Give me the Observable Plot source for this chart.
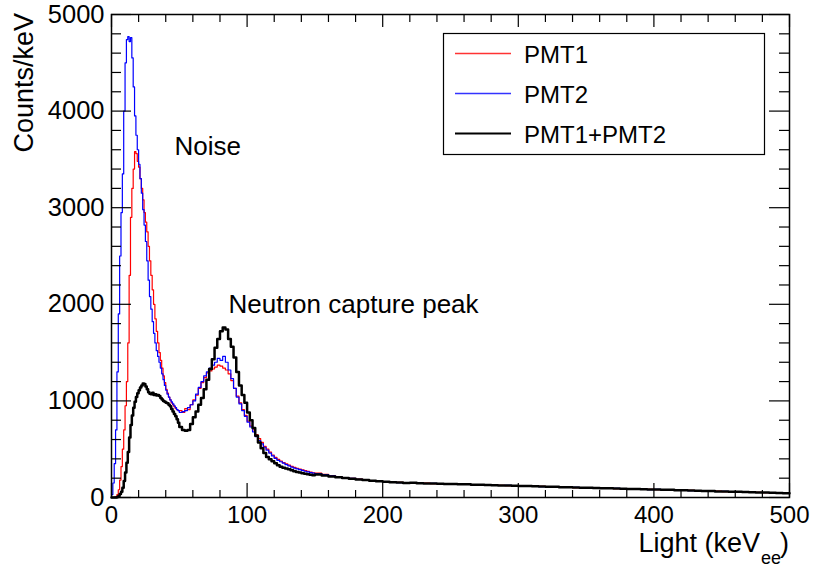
<!DOCTYPE html>
<html><head><meta charset="utf-8">
<script src="https://cdn.jsdelivr.net/npm/d3@7"></script>
<script src="https://cdn.jsdelivr.net/npm/@observablehq/plot@0.6"></script>
<style>body{margin:0;background:#fff;} svg{display:block}</style>
</head><body><div id="chart"></div>
<script>
// Light spectra (Counts/keV), histogram bins:
// fine: 1 keV bins from 0 to 50; mid: 2 keV bins from 50 to 150; tail: 5 keV bins from 150 to 500
const pmt1Fine = [0,0,5,10,30,80,180,320,500,700,950,1200,1600,2300,2900,3200,3400,3580,3560,3480,
  3420,3300,3200,3080,2950,2850,2750,2600,2450,2300,2150,2000,1850,1720,1600,1500,1420,1340,1260,1190,
  1120,1080,1040,1010,980,960,940,920,910,900];
const pmt2Fine = [30,150,350,700,1300,1900,2500,2950,3350,4000,4500,4740,4770,4720,4760,4550,4250,3950,3750,3600,
  3450,3300,3150,2980,2820,2650,2450,2250,2080,1950,1820,1700,1600,1520,1460,1400,1340,1280,1220,1160,
  1110,1070,1040,1010,990,970,950,930,910,900];
const sumFine = [0,0,0,0,5,15,35,60,100,170,260,360,470,620,750,850,930,990,1040,1080,
  1110,1140,1160,1180,1175,1150,1120,1090,1075,1070,1085,1060,1070,1055,1060,1050,1030,1015,1000,990,
  980,975,960,945,915,890,865,840,810,775];

const pmt1Mid = [900,880,920,910,960,1010,1060,1130,1190,1240,1290,1310,1330,1350,1370,1360,1340,1320,1280,1210,
  1130,1050,980,910,850,790,740,700,650,610,570,530,500,470,440,415,395,378,362,348,
  335,322,312,302,294,286,278,270,262,256];
const pmt2Mid = [880,890,900,930,960,1000,1070,1140,1200,1260,1300,1340,1370,1400,1440,1420,1460,1400,1320,1230,
  1130,1040,970,900,840,780,730,680,630,590,555,520,490,460,430,405,385,370,355,340,
  328,315,305,296,288,280,272,265,258,252];
const sumMid = [730,700,690,700,760,830,890,960,1030,1120,1220,1330,1430,1550,1640,1720,1760,1740,1640,1560,
  1450,1300,1160,1060,980,880,800,720,640,570,510,460,420,395,375,355,335,318,308,300,
  292,282,272,264,258,252,246,240,236,230];

const pmt1Tail = [252,240,227,216,207,199,190,183,176,169, 163,158,158,152,153,147,148,143,144,139,
  142,136,137,132,134,129,128,126,123,123, 118,119,115,116,111,111,106,107,102,103,
  99,99,94,96,91,92,87,89,84,85, 82,82,77,78,73,73,69,69,65,65, 61,61,57,58,54,54,50,50,46,46];
const pmt2Tail = [248,236,224,214,206,197,189,180,175,167, 160,161,155,154,150,151,145,147,142,143,
  139,140,135,134,133,128,129,124,126,120, 121,116,118,113,111,109,108,104,105,100,
  101,97,96,93,94,90,89,86,87,82, 84,79,80,75,75,71,71,67,67,62, 63,59,60,55,56,52,52,47,48,44];
const sumTail = [238,228,218,210,203,194,186,181,173,168, 162,159,156,151,152,148,146,145,143,140,
  141,137,136,133,131,130,127,125,124,121, 119,118,117,114,112,110,107,106,104,101,
  100,98,95,95,92,91,88,88,86,83, 83,80,79,76,74,72,70,68,66,63, 62,60,59,56,55,53,51,48,47,45];

const seriesNames = ["PMT1", "PMT2", "PMT1+PMT2"];
const seriesColors = ["#ff0000", "#0000ff", "#000000"];
const legendColors = ["#ff3333", "#3333ff", "#000000"];
const xMajor = [0, 100, 200, 300, 400, 500];
const yMajor = [0, 1000, 2000, 3000, 4000, 5000];
const xMinor = d3.range(0, 500, 20).filter(v => v % 100 !== 0);
const yMinor = d3.range(0, 5000, 200).filter(v => v % 1000 !== 0);
const annotations = [
  {x: 46.5, y: 3550, label: "Noise"},
  {x: 86.3, y: 1915, label: "Neutron capture peak"}
];

function build(fine, mid, tail) {
  const pts = [];
  const eF = d3.range(0, 50, 1), eM = d3.range(50, 150, 2), eT = d3.range(150, 500, 5);
  fine.forEach((v, i) => pts.push({x: eF[i], y: v}));
  mid.forEach((v, i) => pts.push({x: eM[i], y: v}));
  tail.forEach((v, i) => pts.push({x: eT[i], y: v}));
  pts.push({x: 500, y: tail[tail.length - 1]});
  return pts;
}
const pmt1 = build(pmt1Fine, pmt1Mid, pmt1Tail);
const pmt2 = build(pmt2Fine, pmt2Mid, pmt2Tail);
const sum = build(sumFine, sumMid, sumTail);

const W = 816, H = 567, mL = 111, mR = 27, mT = 14, mB = 70;
const fh = H - mT - mB, fw = W - mL - mR;
const FONT = "'Liberation Sans', Arial, sans-serif";

const plot = Plot.plot({
  width: W, height: H, marginLeft: mL, marginRight: mR, marginTop: mT, marginBottom: mB,
  style: {fontFamily: FONT, fontSize: "24px", background: "white", color: "black", overflow: "visible"},
  x: {domain: [0, 500]},
  y: {domain: [0, 5000]},
  marks: [
    Plot.line(pmt1, {x: "x", y: "y", curve: "step-after", stroke: seriesColors[0], strokeWidth: 1.2}),
    Plot.line(pmt2, {x: "x", y: "y", curve: "step-after", stroke: seriesColors[1], strokeWidth: 1.2}),
    Plot.line(sum, {x: "x", y: "y", curve: "step-after", stroke: seriesColors[2], strokeWidth: 2.5}),
    Plot.tickX(xMajor, {x: d => d, insetTop: fh - 14, stroke: "black", strokeWidth: 1.2}),
    Plot.tickX(xMajor, {x: d => d, insetBottom: fh - 13, stroke: "black", strokeWidth: 1.2}),
    Plot.tickX(xMinor, {x: d => d, insetTop: fh - 7, stroke: "black", strokeWidth: 1.2}),
    Plot.tickX(xMinor, {x: d => d, insetBottom: fh - 8, stroke: "black", strokeWidth: 1.2}),
    Plot.tickY(yMajor, {y: d => d, insetRight: fw - 20, stroke: "black", strokeWidth: 1.2}),
    Plot.tickY(yMajor, {y: d => d, insetLeft: fw - 20, stroke: "black", strokeWidth: 1.2}),
    Plot.tickY(yMinor, {y: d => d, insetRight: fw - 10, stroke: "black", strokeWidth: 1.2}),
    Plot.tickY(yMinor, {y: d => d, insetLeft: fw - 10, stroke: "black", strokeWidth: 1.2}),
    Plot.frame({stroke: "black", strokeWidth: 1.5}),
    Plot.axisX({ticks: xMajor, tickSize: 0, tickPadding: 8, tickFormat: d3.format("d"), label: null, fontSize: 24}),
    Plot.axisY({ticks: yMajor, tickSize: 0, tickPadding: 7, tickFormat: d3.format("d"), label: null, fontSize: 25.5}),
    Plot.text(annotations, {x: "x", y: "y", text: "label", textAnchor: "start", lineAnchor: "bottom", fontSize: 26, fill: "black"})
  ]
});

const svg = d3.select(plot);
// Legend
const lg = svg.append("g").attr("font-size", 24).attr("font-family", FONT).attr("text-anchor", "start");
lg.append("rect").attr("x", 443.5).attr("y", 33.5).attr("width", 321).attr("height", 121)
  .attr("fill", "white").attr("stroke", "black").attr("stroke-width", 1.2);
seriesNames.forEach((name, i) => {
  const cy = 53.5 + 40 * i;
  lg.append("line").attr("x1", 455).attr("x2", 511).attr("y1", cy).attr("y2", cy)
    .attr("stroke", legendColors[i]).attr("stroke-width", i === 2 ? 2.2 : 1.3);
  lg.append("text").attr("x", 524).attr("y", cy + 9.5).attr("fill", "black").attr("text-anchor", "start").text(name);
});
// Axis titles
const tg = svg.append("g").attr("font-family", FONT).attr("fill", "black");
tg.append("text").attr("x", 760).attr("y", 552).attr("text-anchor", "end").attr("font-size", 27).text("Light (keV");
tg.append("text").attr("x", 761).attr("y", 564).attr("text-anchor", "start").attr("font-size", 18).text("ee");
tg.append("text").attr("x", 780).attr("y", 552).attr("text-anchor", "start").attr("font-size", 27).text(")");
tg.append("text").attr("transform", "translate(33,13) rotate(-90)").attr("text-anchor", "end")
  .attr("font-size", 27).text("Counts/keV");

document.getElementById("chart").appendChild(plot);
</script>
</body></html>
